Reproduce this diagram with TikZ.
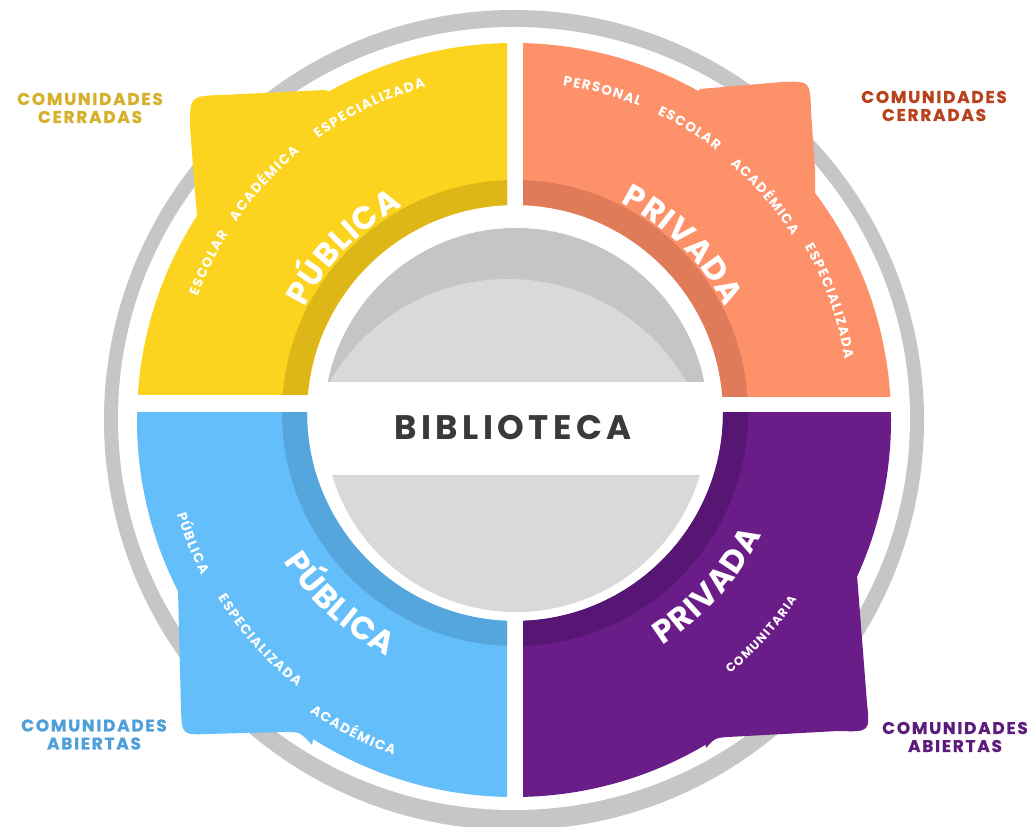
\documentclass[tikz,border=0pt]{standalone}
\usepackage{fontspec}
\setmainfont{Poppins}
\usetikzlibrary{decorations.text}
\definecolor{ylw}{HTML}{FCD31E}
\definecolor{ylwD}{HTML}{DDB617}
\definecolor{org}{HTML}{FD916A}
\definecolor{orgD}{HTML}{DF7B59}
\definecolor{blu}{HTML}{64BEFA}
\definecolor{bluD}{HTML}{56A6DE}
\definecolor{pur}{HTML}{6A1C88}
\definecolor{purD}{HTML}{571574}
\definecolor{ringc}{HTML}{C6C6C6}
\definecolor{cdark}{HTML}{C5C5C5}
\definecolor{clight}{HTML}{D9D9D9}
\definecolor{lyel}{HTML}{D6B02A}
\definecolor{lorg}{HTML}{B8421C}
\definecolor{lblu}{HTML}{4E9FDA}
\definecolor{lpur}{HTML}{5D1B7C}
\definecolor{bibc}{HTML}{3A3A3A}
\newcommand\fBig{\bfseries\fontsize{32}{32}\selectfont}
\newcommand\fSmall{\bfseries\fontsize{13.5}{14}\selectfont}
\newcommand\fTiny{\bfseries\fontsize{12}{12}\selectfont}
\newcommand\spk{\kern1.35pt}
\newcommand\bspk{\kern1pt}
% clockwise text (top half): radius, mid angle, font, text
\newcommand\cwtext[4]{%
  \path[decorate,decoration={text along path,text align=center,
    text={|\color{white}#3|#4}}]
    (515,414) ++(#2+40:#1) arc[start angle=#2+40,end angle=#2-40,radius=#1];}
% counter-clockwise text (bottom half)
\newcommand\ccwtext[4]{%
  \path[decorate,decoration={text along path,text align=center,
    text={|\color{white}#3|#4}}]
    (515,414) ++(#2-40:#1) arc[start angle=#2-40,end angle=#2+40,radius=#1];}
\tikzset{
  lab/.style={align=center,inner sep=0pt,
    font=\bfseries\fontsize{17}{18}\selectfont\addfontfeature{LetterSpace=10,FakeBold=0.6}},
}
\begin{document}
\begin{tikzpicture}[x=1pt,y=1pt]
\useasboundingbox (0,0) rectangle (1034,827);
\fill[white] (0,0) rectangle (1034,827);
% outer gray ring
\fill[ringc] (514,407) circle[radius=410];
\fill[white] (514,408.5) ellipse[x radius=396,y radius=391.5];
% yellow quadrant
\begin{scope}
  \clip (0,432) rectangle (507,827);
  \fill[ylw,even odd rule] (514,407) circle[radius=377] (515,414) circle[radius=208];
  \fill[ylw] (350,727) -- (325,737) -- (222,732) .. controls (190,731) .. (190,700)
     -- (196,622) -- (199,599) -- (250,599) -- cycle;
  \fill[ylwD,even odd rule] (515,414) circle[radius=233] (515,414) circle[radius=208];
\end{scope}
% orange quadrant
\begin{scope}
  \clip (523,430) rectangle (1034,827);
  \fill[org,even odd rule] (514,407) circle[radius=377] (515,414) circle[radius=208];
  \fill[org] (690,727) -- (700,738) -- (782,745) .. controls (810,746) .. (811,717)
     -- (815,657) -- (815,622) -- (770,622) -- cycle;
  \fill[orgD,even odd rule] (515,414) circle[radius=233] (515,414) circle[radius=208];
\end{scope}
% blue quadrant
\begin{scope}
  \clip (0,0) rectangle (507,414);
  \fill[blu,even odd rule] (514,407) circle[radius=377] (515,414) circle[radius=208];
  \fill[blu] (200,267) -- (178,237) -- (181,118) .. controls (182,92) .. (208,93)
     -- (285,95) .. controls (300,95) .. (312,82) -- (320,127) -- cycle;
  \fill[bluD,even odd rule] (515,414) circle[radius=233] (515,414) circle[radius=208];
\end{scope}
% purple quadrant
\begin{scope}
  \clip (523,0) rectangle (1034,414);
  \fill[pur,even odd rule] (514,407) circle[radius=377] (515,414) circle[radius=208];
  \fill[pur] (830,267) -- (857,252) -- (867,124) .. controls (870,95) .. (838,96)
     -- (728,90) .. controls (715,89) .. (706,79) -- (700,127) -- cycle;
  \fill[purD,even odd rule] (515,414) circle[radius=233] (515,414) circle[radius=208];
\end{scope}
% central circle
\begin{scope}
  \clip (516,407) circle[radius=192];
  \begin{scope}
    \clip (300,445) rectangle (740,620);
    \fill[cdark] (300,445) rectangle (740,620);
    \fill[clight] (508,342) circle[radius=206];
  \end{scope}
  \fill[clight] (300,150) rectangle (740,352);
\end{scope}
\node[text=bibc,inner sep=0pt,font=\bfseries\fontsize{34}{34}\selectfont\addfontfeature{LetterSpace=13}] (bib) at (513,399) {BIBLIOTECA};
% big category texts
\cwtext{235}{136}{\fBig}{{P\bspk}{Ú\bspk}{B\bspk}{L\bspk}{I\bspk}{C\bspk}A}
\cwtext{235}{45}{\fBig}{{P\bspk}{R\bspk}{I\bspk}{V\bspk}{A\bspk}{D\bspk}A}
\ccwtext{275}{227.5}{\fBig}{{P\bspk}{Ú\bspk}{B\bspk}{L\bspk}{I\bspk}{C\bspk}A}
\ccwtext{275}{-42}{\fBig}{{P\bspk}{R\bspk}{I\bspk}{V\bspk}{A\bspk}{D\bspk}A}
% yellow small texts
\cwtext{338}{154}{\fSmall}{{E\spk}{S\spk}{C\spk}{O\spk}{L\spk}{A\spk}R}
\cwtext{338}{137.6}{\fSmall}{{A\spk}{C\spk}{A\spk}{D\spk}{É\spk}{M\spk}{I\spk}{C\spk}A}
\cwtext{338}{115.5}{\fSmall}{{E\spk}{S\spk}{P\spk}{E\spk}{C\spk}{I\spk}{A\spk}{L\spk}{I\spk}{Z\spk}{A\spk}{D\spk}A}
% orange small texts
\cwtext{331}{74.8}{\fSmall}{{P\spk}{E\spk}{R\spk}{S\spk}{O\spk}{N\spk}{A\spk}L}
\cwtext{331}{58.5}{\fSmall}{{E\spk}{S\spk}{C\spk}{O\spk}{L\spk}{A\spk}R}
\cwtext{329}{40.9}{\fSmall}{{A\spk}{C\spk}{A\spk}{D\spk}{É\spk}{M\spk}{I\spk}{C\spk}A}
\cwtext{334}{19.6}{\fSmall}{{E\spk}{S\spk}{P\spk}{E\spk}{C\spk}{I\spk}{A\spk}{L\spk}{I\spk}{Z\spk}{A\spk}{D\spk}A}
% blue small texts
\ccwtext{353}{202}{\fSmall}{{P\spk}{Ú\spk}{B\spk}{L\spk}{I\spk}{C\spk}A}
\ccwtext{350}{221.7}{\fSmall}{{E\spk}{S\spk}{P\spk}{E\spk}{C\spk}{I\spk}{A\spk}{L\spk}{I\spk}{Z\spk}{A\spk}{D\spk}A}
\ccwtext{363}{243}{\fSmall}{{A\spk}{C\spk}{A\spk}{D\spk}{É\spk}{M\spk}{I\spk}{C\spk}A}
% purple small text
\ccwtext{338}{-42}{\fTiny}{{C\spk}{O\spk}{M\spk}{U\spk}{N\spk}{I\spk}{T\spk}{A\spk}{R\spk}{I\spk}A}
% side labels
\node[lab,text=lyel] (lblTL) at (90,719) {COMUNIDADES\\CERRADAS};
\node[lab,text=lorg] (lblTR) at (934,721) {COMUNIDADES\\CERRADAS};
\node[lab,text=lblu] (lblBL) at (94,92.5) {COMUNIDADES\\ABIERTAS};
\node[lab,text=lpur] (lblBR) at (955,90) {COMUNIDADES\\ABIERTAS};
\end{tikzpicture}
\end{document}
